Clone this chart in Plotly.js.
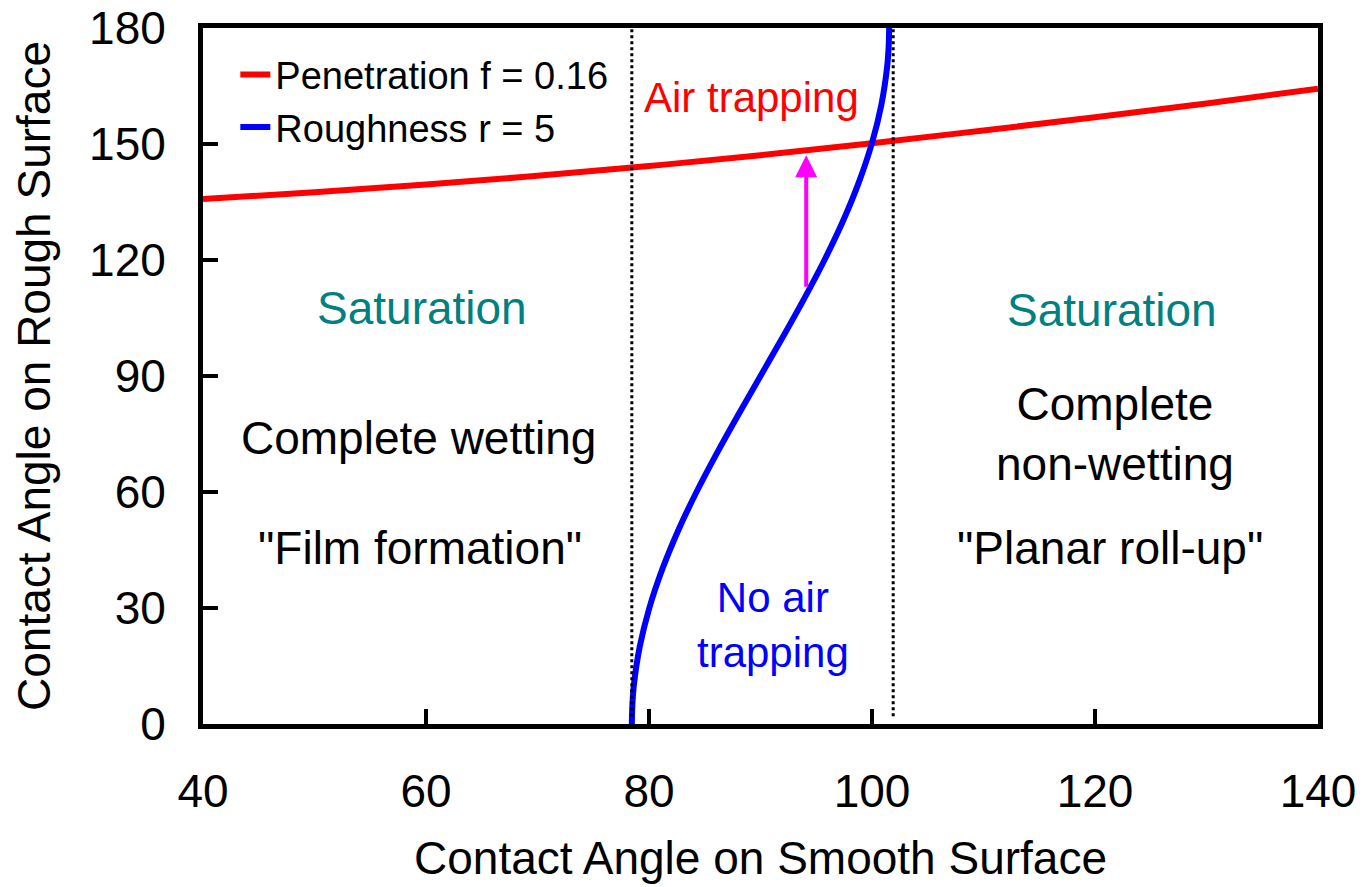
<!DOCTYPE html>
<html>
<head>
<meta charset="utf-8">
<script src="https://cdn.plot.ly/plotly-3.0.1.min.js"></script>
<style>html,body{margin:0;padding:0;background:#fff}#chart{width:1364px;height:887px}</style>
</head>
<body>
<div id="chart"></div>
<script>
// Penetration (Cassie) curve, f = 0.16
var penetrationX = [40, 50, 60, 70, 80, 90, 100, 110, 120, 130, 140];
var penetrationY = [135.8, 137.5, 139.5, 141.8, 144.3, 147.1, 150.2, 153.5, 156.9, 160.5, 164.3];

// Roughness (Wenzel) curve, r = 5
var roughnessX = [78.46, 78.51, 78.64, 79.17, 80.03, 81.19, 82.61, 84.26, 86.08, 88.01, 90, 91.99, 93.92, 95.74, 97.39, 98.81, 99.97, 100.83, 101.36, 101.49, 101.54];
var roughnessY = [0, 5, 10, 20, 30, 40, 50, 60, 70, 80, 90, 100, 110, 120, 130, 140, 150, 160, 170, 175, 180];

// Vertical dotted boundary lines
var boundaryX = [78.46, 101.9];

// Arrow from roughness curve up to penetration curve
var arrowX = 94.1;
var arrowFromY = 112.7;
var arrowToY = 147.1;

var xTicks = [40, 60, 80, 100, 120, 140];
var yTicks = [0, 30, 60, 90, 120, 150, 180];

var seriesNames = ['Penetration f = 0.16', 'Roughness r = 5'];

var FONT = 'Liberation Sans, Arial, sans-serif';

var traces = [
  {x: penetrationX, y: penetrationY, mode: 'lines', name: seriesNames[0],
   line: {color: '#ff0000', width: 6, shape: 'spline'}},
  {x: roughnessX, y: roughnessY, mode: 'lines', name: seriesNames[1],
   line: {color: '#0000ff', width: 6, shape: 'spline'}}
];

var shapes = boundaryX.map(function (bx) {
  return {type: 'line', xref: 'x', yref: 'y', x0: bx, x1: bx, y0: 2, y1: 180,
          line: {color: '#000', width: 3, dash: 'dot'}};
});

function note(text, x, y, color, size) {
  return {text: text, x: x, y: y, xref: 'x', yref: 'y', showarrow: false,
          font: {family: FONT, size: size, color: color}, xanchor: 'center', yanchor: 'middle'};
}

var annotations = [
  note('Air trapping', 89.2, 162.1, '#ff0000', 42),
  note('Saturation', 59.6, 107.6, '#008080', 46),
  note('Saturation', 121.5, 107.1, '#008080', 46),
  note('Complete wetting', 59.3, 74, '#000', 46),
  note('"Film formation"', 59.5, 45.5, '#000', 46),
  note('Complete<br>non-wetting', 121.8, 75, '#000', 46),
  note('"Planar roll-up"', 121.3, 45.5, '#000', 46),
  note('No air<br>trapping', 91.1, 25.6, '#0000ff', 42),
  {text: '', x: arrowX, y: arrowToY, ax: arrowX, ay: arrowFromY, xref: 'x', yref: 'y',
   axref: 'x', ayref: 'y', showarrow: true, arrowhead: 2, arrowsize: 1.1, arrowwidth: 4,
   arrowcolor: '#ff00ff', standoff: 0, startstandoff: 0}
];

var axisCommon = {
  showline: true, linecolor: '#000', linewidth: 5, mirror: true,
  ticks: 'inside', ticklen: 15, tickwidth: 4, tickcolor: '#000',
  showgrid: false, zeroline: false,
  tickfont: {family: FONT, size: 46, color: '#000'}
};

var layout = {
  width: 1364, height: 887,
  margin: {l: 203, r: 46, t: 28, b: 163},
  paper_bgcolor: '#fff', plot_bgcolor: '#fff',
  font: {family: FONT, color: '#000'},
  showlegend: true,
  legend: {x: 0.029, y: 0.978, xanchor: 'left', yanchor: 'top',
           bgcolor: 'rgba(0,0,0,0)', borderwidth: 0,
           font: {family: FONT, size: 38, color: '#000'}, tracegroupgap: 0},
  xaxis: Object.assign({}, axisCommon, {
    range: [40, 140], tickvals: xTicks, ticktext: xTicks.map(String),
    ticklabelstandoff: 23,
    title: {text: 'Contact Angle on Smooth Surface', font: {family: FONT, size: 46, color: '#000'}, standoff: 27}
  }),
  yaxis: Object.assign({}, axisCommon, {
    range: [0, 180], tickvals: yTicks, ticktext: yTicks.map(String),
    ticklabelstandoff: 23,
    title: {text: 'Contact Angle on Rough Surface', font: {family: FONT, size: 46, color: '#000'}, standoff: 25}
  }),
  shapes: shapes,
  annotations: annotations
};

Plotly.newPlot('chart', traces, layout, {displayModeBar: false, staticPlot: true});
</script>
</body>
</html>
